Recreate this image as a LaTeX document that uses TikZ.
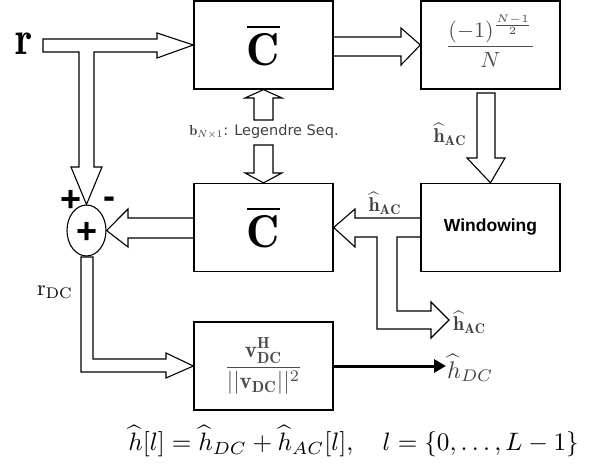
\documentclass[tikz,border=0pt]{standalone}
\usepackage{amsmath}
\usepackage{graphicx}
\usepackage{fontspec}
\newfontfamily\arialfont{Liberation Sans}
\newfontfamily\verdanafont{DejaVu Sans}
\usetikzlibrary{arrows.meta,shapes.geometric,calc}
\begin{document}
\begin{tikzpicture}[x=1pt,y=-1pt,
  blockbox/.style={draw, line width=1.3pt, minimum width=139pt, minimum height=88pt, inner sep=0pt},
  hollow/.style={draw, line width=1.1pt, line join=miter},
  lbl/.style={inner sep=0pt, text=black!75},
  pm/.style={inner sep=0pt, font=\arialfont\bfseries\fontsize{36}{36}\selectfont},
]
\useasboundingbox (0,0) rectangle (602,465);
% blocks
\node[blockbox] (C1) at (263.5,45) {\scalebox{4.6}{$\overline{\mathbf{C}}$}};
\node[blockbox] (F) at (490.5,45) {};
\node[lbl, text=black!70] (Ftext) at ($(F.center)+(0,-4)$) {\scalebox{2.2}{$\displaystyle\frac{(-1)^{\frac{N-1}{2}}}{N}$}};
\node[blockbox] (W) at (490.5,227.5) {\arialfont\bfseries\fontsize{17.5}{20}\selectfont Windowing};
\node[blockbox] (C2) at (263.5,227.5) {\scalebox{4.6}{$\overline{\mathbf{C}}$}};
\node[blockbox, text=black!70] (B) at (263.5,366) {\scalebox{2.3}{$\displaystyle\frac{\mathbf{v}_{\mathbf{DC}}^{\mathbf{H}}}{||\mathbf{v}_{\mathbf{DC}}||^2}$}};
\node[ellipse, draw, line width=1.1pt, minimum width=39pt, minimum height=51pt, inner sep=0pt] (sum) at (86.5,230.5) {};
\node[pm] (sumplus) at (87,233) {+};
% labels
\node[inner sep=0pt] (r) at (24,44) {\scalebox{4}[4.8]{$\mathbf{r}$}};
\node[pm] (plus) at (71,201) {+};
\node[pm] (minus) at (109,203) {-};
\node[lbl] (leg) at (264,132) {\scalebox{1.45}{$\mathbf{b}_{N\times1}$\verdanafont: Legendre Seq.}};
\node[lbl] (hac1) at (450,134) {\scalebox{2}{$\widehat{\mathbf{h}}_{\mathbf{AC}}$}};
\node[lbl] (hac2) at (385,203) {\scalebox{2}{$\widehat{\mathbf{h}}_{\mathbf{AC}}$}};
\node[lbl, anchor=west] (hac3) at (453,322) {\scalebox{2}{$\widehat{\mathbf{h}}_{\mathbf{AC}}$}};
\node[lbl, text=black] (rdc) at (55,292) {\scalebox{2.2}{$\mathrm{r}_{\mathrm{DC}}$}};
\node[lbl, anchor=west] (hdc) at (447,368) {\scalebox{2.4}{$\widehat{h}_{DC}$}};
\node[inner sep=0pt] (eq) at (353.5,441) {\scalebox{2.52}{$\widehat{h}[l]=\widehat{h}_{DC}+\widehat{h}_{AC}[l],\quad l=\{0,\ldots,L-1\}$}};
% hollow arrows
\coordinate (tip3) at (449,320);
\coordinate (tipdc) at (446,366);
\draw[hollow] (43,39) -- (157,39) -- (157,33) -- (C1.west) -- (157,58) -- (157,52) -- (94,52)
  -- (94,167) -- (102,167) -- (sum.north) -- (71,167) -- (79,167) -- (79,52) -- (43,52) -- cycle;
\draw[hollow] (C1.east |- 0,37) -- (401,37) -- (401,28) -- (F.west) -- (401,65) -- (401,56) -- (C1.east |- 0,56);
\draw[hollow] (477,93) -- (477,158) -- (467,158) -- (W.north) -- (505,158) -- (495,158) -- (495,93) -- cycle;
\draw[hollow] (254,120) -- (254,98) -- (245,98) -- (C1.south) -- (282,98) -- (273,98) -- (273,120) -- cycle;
\draw[hollow] (254,145) -- (254,173) -- (245,173) -- (C2.north) -- (282,173) -- (273,173) -- (273,145) -- cycle;
\draw[hollow] (W.west |- 0,218) -- (355,218) -- (355,209) -- (C2.east) -- (355,247) -- (355,237) -- (377,237)
  -- (377,329) -- (431,329) -- (431,338) -- (tip3) -- (431,302) -- (431,311) -- (397,311) -- (397,237) -- (W.west |- 0,237);
\draw[hollow] (C2.west |- 0,218) -- (128,218) -- (128,209) -- (sum.east) -- (128,247) -- (128,238) -- (C2.west |- 0,238);
\draw[hollow] (81,257) -- (81,372) -- (166,372) -- (166,378) -- (B.west) -- (166,353) -- (166,359) -- (93,359) -- (93,257) -- cycle;
% solid arrow
\draw[line width=3pt, -{Triangle[length=12pt,width=13pt]}] (B.east) -- (tipdc);
\end{tikzpicture}
\end{document}
